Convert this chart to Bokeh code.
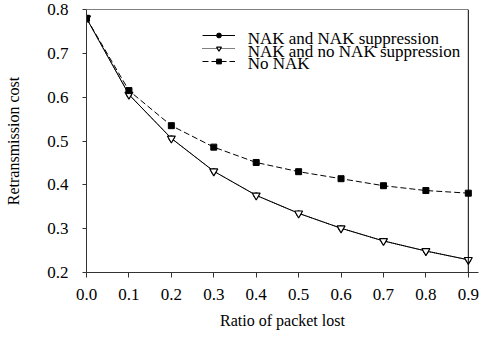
from bokeh.plotting import figure
from bokeh.models import Legend, LegendItem, FixedTicker, NumeralTickFormatter, Label, Span
from bokeh.embed import file_html
from bokeh.resources import INLINE

ratio = [0.0, 0.1, 0.2, 0.3, 0.4, 0.5, 0.6, 0.7, 0.8, 0.9]
nak_supp = [0.780, 0.606, 0.506, 0.431, 0.376, 0.335, 0.301, 0.272, 0.249, 0.229]
nak_no_supp = [0.780, 0.606, 0.506, 0.431, 0.376, 0.335, 0.301, 0.272, 0.249, 0.229]
no_nak = [0.780, 0.615, 0.535, 0.486, 0.451, 0.430, 0.414, 0.398, 0.387, 0.381]
x_ticks = [0.0, 0.1, 0.2, 0.3, 0.4, 0.5, 0.6, 0.7, 0.8, 0.9]
y_ticks = [0.2, 0.3, 0.4, 0.5, 0.6, 0.7, 0.8]
series_names = ["NAK and NAK suppression", "NAK and no NAK suppression", "No NAK"]

FONT = "Liberation Serif"

# x range slightly wider than the last tick so the legend text can extend past the right border
p = figure(width=488, height=331, output_backend="svg", toolbar_location=None,
           x_range=(0.0, 0.924), y_range=(0.2, 0.8),
           min_border_left=86, min_border_right=10, min_border_top=9, min_border_bottom=40)
p.background_fill_color = "white"
p.border_fill_color = "white"
p.outline_line_color = None
p.xgrid.visible = False
p.ygrid.visible = False

for ax in (p.xaxis[0], p.yaxis[0]):
    ax.major_label_text_font = FONT
    ax.major_label_text_font_size = "17px"
    ax.major_label_text_color = "black"
    ax.axis_label_text_font = FONT
    ax.axis_label_text_font_size = "16px"
    ax.axis_label_text_font_style = "normal"
    ax.axis_label_text_color = "black"
    ax.axis_line_color = "#333333"
    ax.major_tick_line_color = "#333333"
    ax.major_tick_in = 0
    ax.major_tick_out = 5
    ax.minor_tick_line_color = None
    ax.formatter = NumeralTickFormatter(format="0.0")

p.xaxis.ticker = FixedTicker(ticks=x_ticks)
p.yaxis.ticker = FixedTicker(ticks=y_ticks)
p.xaxis.axis_label = "Ratio of packet lost"
p.yaxis.axis_label = "Retransmission cost"
p.yaxis.major_tick_out = 4
p.xaxis.major_label_standoff = 11
p.yaxis.major_label_standoff = 14
p.xaxis.axis_label_standoff = 9
p.yaxis.axis_label_standoff = 22

# right and top borders of the plot box, ending at the last x tick
p.add_layout(Span(location=x_ticks[-1], dimension="height", line_color="black", line_width=1))
p.segment(x0=[x_ticks[0]], y0=[y_ticks[-1]], x1=[x_ticks[-1]], y1=[y_ticks[-1]],
          line_color="black", line_width=1)

l1 = p.line(ratio, nak_supp, line_color="black", line_width=1)
m1 = p.scatter(ratio, nak_supp, marker="circle", size=5, fill_color="black", line_color="black")
l2 = p.line(ratio, nak_no_supp, line_color="black", line_width=1, line_dash="1 1")
m2 = p.scatter(ratio, nak_no_supp, marker="inverted_triangle", size=8, fill_color="white",
               line_color="black", line_width=1.2)
l3 = p.line(ratio, no_nak, line_color="black", line_width=1, line_dash="6 3")
m3 = p.scatter(ratio, no_nak, marker="square", size=6, fill_color="black", line_color="black")

# legend keys (compact rows), text drawn as labels next to them
legend = Legend(items=[
    LegendItem(label=" ", renderers=[l1, m1]),
    LegendItem(label=" ", renderers=[l2, m2]),
    LegendItem(label=" ", renderers=[l3, m3]),
], location=(116, 205))
legend.label_text_font_size = "1px"
legend.glyph_width = 33
legend.glyph_height = 12
legend.label_height = 12
legend.label_width = 1
legend.label_standoff = 0
legend.spacing = 1
legend.padding = 0
legend.margin = 0
legend.border_line_alpha = 0
legend.background_fill_alpha = 0
p.add_layout(legend)

legend_x = 0.38
legend_y = [0.734, 0.705, 0.676]
for name, ly in zip(series_names, legend_y):
    p.add_layout(Label(x=legend_x, y=ly, text=name, text_font=FONT, text_font_size="17px",
                       text_color="black", text_baseline="middle", text_align="left"))

open("out.html", "w").write(file_html(p, INLINE))
